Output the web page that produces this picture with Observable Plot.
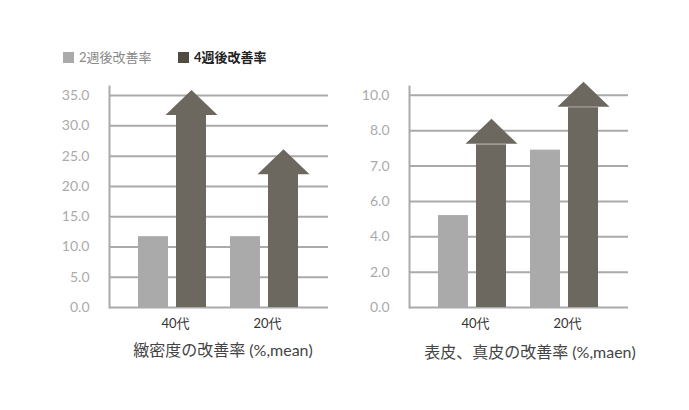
<!DOCTYPE html>
<html>
<head>
<meta charset="utf-8">
<script src="https://cdn.jsdelivr.net/npm/d3@7"></script>
<script src="https://cdn.jsdelivr.net/npm/@observablehq/plot@0.6"></script>
<style>
  html, body { margin: 0; padding: 0; background: #fff; }
  #wrap { position: relative; width: 689px; height: 410px; overflow: hidden; background: #fff;
          font-family: Lato, "Noto Sans CJK JP", sans-serif; }
  .chart { position: absolute; top: 0; }
  .legend { position: absolute; top: 49px; font-size: 13px; line-height: 16px; white-space: nowrap; }
  .legend span.sw { display: inline-block; width: 11px; height: 11px; vertical-align: -1px; margin-right: 5px; }
  .title { position: absolute; font-size: 16px; line-height: 20px; color: #444; white-space: nowrap; transform: translateX(-50%); }
</style>
</head>
<body>
<div id="wrap">
  <div class="legend" style="left:63px;color:#888;"><span class="sw" style="background:#aaaaaa"></span>2週後改善率</div>
  <div class="legend" style="left:178px;color:#222;font-weight:bold;"><span class="sw" style="background:#524b3f"></span>4週後改善率</div>
  <div class="chart" id="c1" style="left:0px"></div>
  <div class="chart" id="c2" style="left:300px"></div>
  <div class="title" style="left:223px;top:340px;">緻密度の改善率 (%,mean)</div>
  <div class="title" style="left:530px;top:342px;">表皮、真皮の改善率 (%,maen)</div>
</div>
<script>
// ---- data ----
const categories = ["40代", "20代"];
const series = ["2週後改善率", "4週後改善率"];
const densityWeek2 = [11.7, 11.7];
const densityWeek4 = [31.8, 22.0];
const skinWeek2 = [5.2, 7.45];
const skinWeek4 = [7.6, 9.3];
const densityTicks = [0, 5, 10, 15, 20, 25, 30, 35];
const skinTickLabels = [0, 2, 4, 6, 7, 8, 10];

const lightColor = "#aaaaaa";
const darkColor = "#6c685f";
const gridColor = "#aaaaaa";
const FONT = 'Lato, "Noto Sans CJK JP", sans-serif';

function arrowHead(gap) {
  return {
    draw(ctx) {
      ctx.moveTo(-26, -gap);
      ctx.lineTo(0, -25 - gap);
      ctx.lineTo(26, -gap);
      ctx.closePath();
    }
  };
}

function makeChart({w2, w4, yDomain, yTicks, yFormat, yMap, gap}) {
  const light = categories.map((c, i) => ({cat: c, value: yMap(w2[i])}));
  const dark = categories.map((c, i) => ({cat: c, value: yMap(w4[i])}));
  return Plot.plot({
    width: 345,
    height: 370,
    marginLeft: 109,
    marginRight: 17,
    marginTop: 86,
    marginBottom: 63,
    style: {fontFamily: FONT, background: "transparent", overflow: "visible"},
    x: {domain: categories, paddingInner: 0.26, paddingOuter: 0.32},
    y: {domain: yDomain},
    marks: [
      Plot.gridY(yTicks, {stroke: gridColor, strokeOpacity: 1, strokeWidth: 2}),
      Plot.frame({anchor: "left", stroke: gridColor, strokeWidth: 2}),
      Plot.barY(light, {x: "cat", y: "value", fill: lightColor, insetRight: 38}),
      Plot.barY(dark, {x: "cat", y: "value", fill: darkColor, insetLeft: 38}),
      Plot.dot(dark, {x: "cat", y: "value", fill: darkColor, stroke: "none", r: 10, dx: 19, symbol: arrowHead(gap)}),
      Plot.axisY({ticks: yTicks, tickSize: 0, tickPadding: 20, tickFormat: yFormat, fontSize: 14, color: "#aaaaaa", label: null}),
      Plot.axisX({tickSize: 0, tickPadding: 11, fontSize: 13, color: "#333333", label: null, dx: 3})
    ]
  });
}

document.getElementById("c1").appendChild(makeChart({
  w2: densityWeek2, w4: densityWeek4,
  yDomain: [0, 36.5],
  yTicks: densityTicks,
  yFormat: d => d.toFixed(1),
  yMap: v => v,
  gap: 0
}));

const pw = d3.scaleLinear().domain(skinTickLabels).range(skinTickLabels.map((d, i) => i));
document.getElementById("c2").appendChild(makeChart({
  w2: skinWeek2, w4: skinWeek4,
  yDomain: [0, 6.25],
  yTicks: skinTickLabels.map(pw),
  yFormat: d => skinTickLabels[Math.round(d)].toFixed(1),
  yMap: v => pw(v),
  gap: 1
}));
</script>
</body>
</html>
